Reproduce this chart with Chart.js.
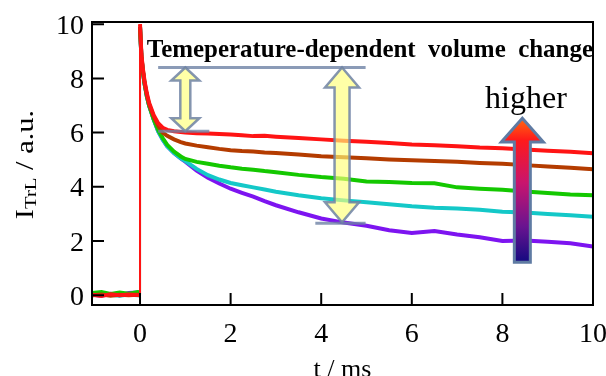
<!DOCTYPE html>
<html>
<head>
<meta charset="utf-8">
<script src="https://cdn.jsdelivr.net/npm/chart.js@4.4.0/dist/chart.umd.min.js"></script>
<style>
  html, body { margin: 0; padding: 0; background: #fff; }
  #wrap { width: 606px; height: 376px; }
</style>
</head>
<body>
<div id="wrap"><canvas id="trlChart" width="606" height="376"></canvas></div>
<script>
// time axis (ms), shared by all traces; 0 appears twice for the jump at t = 0
const times = [-1.05, -0.85, -0.65, -0.45, -0.25, -0.05, 0, 0,
  0.03, 0.06, 0.1, 0.15, 0.2, 0.3, 0.4,
  0.5, 0.6, 0.75, 0.9, 1.0,
  1.25, 1.5, 1.75, 2.0, 2.25, 2.5, 2.75, 3.0,
  3.5, 4.0, 4.5, 5.0, 5.5, 6.0, 6.5, 7.0, 7.5, 8.0, 8.5, 9.0, 9.5, 10.0];

// TrL intensity (a.u.)
const redVals = [0.02, -0.03, 0.04, 0.0, 0.03, 0.01, 0.0, 10.0,
  8.9, 8.4, 7.9, 7.45, 7.1, 6.65, 6.35,
  6.18, 6.1, 6.05, 6.02, 6.0,
  5.98, 5.97, 5.95, 5.93, 5.9, 5.87, 5.88, 5.85,
  5.8, 5.75, 5.7, 5.66, 5.62, 5.56, 5.53, 5.5, 5.45, 5.42, 5.38, 5.33, 5.29, 5.24];
const brownVals = [0.0, 0.03, -0.02, 0.02, 0.0, 0.02, 0.0, 9.9,
  8.85, 8.35, 7.85, 7.4, 7.05, 6.6, 6.25,
  6.0, 5.88, 5.75, 5.65, 5.6,
  5.52, 5.46, 5.4, 5.35, 5.32, 5.3, 5.27, 5.25,
  5.19, 5.13, 5.09, 5.05, 5.01, 4.98, 4.95, 4.92, 4.88, 4.85, 4.8, 4.75, 4.7, 4.65];
const greenVals = [0.08, 0.12, 0.05, 0.1, 0.06, 0.12, 0.1, 9.9,
  8.8, 8.3, 7.8, 7.35, 7.0, 6.5, 6.1,
  5.8, 5.55, 5.3, 5.12, 5.03,
  4.92, 4.85, 4.78, 4.72, 4.67, 4.63, 4.58, 4.54,
  4.44, 4.36, 4.3, 4.2, 4.18, 4.14, 4.13, 3.98, 3.93, 3.89, 3.83, 3.77, 3.72, 3.69];
const cyanVals = [0.0, 0.04, 0.02, -0.02, 0.03, 0.0, 0.0, 9.9,
  8.8, 8.3, 7.8, 7.35, 7.0, 6.5, 6.05,
  5.75, 5.5, 5.25, 5.05, 4.95,
  4.66, 4.43, 4.27, 4.14, 4.06, 3.98, 3.9, 3.82,
  3.69, 3.58, 3.5, 3.43, 3.36, 3.28, 3.23, 3.2, 3.15, 3.08, 3.05, 3.0, 2.95, 2.9];
const purpleVals = [0.02, -0.02, 0.05, 0.0, 0.08, 0.1, 0.05, 9.9,
  8.8, 8.3, 7.8, 7.35, 7.0, 6.5, 6.05,
  5.75, 5.5, 5.25, 5.05, 4.93,
  4.6, 4.33, 4.12, 3.93, 3.78, 3.64, 3.47, 3.32,
  3.06, 2.83, 2.68, 2.56, 2.4, 2.3, 2.37, 2.24, 2.14, 2.0, 2.02, 1.97, 1.92, 1.8];

const xTicks = [0, 2, 4, 6, 8, 10];
const yTicks = [0, 2, 4, 6, 8, 10];

const serif = '"Liberation Serif", "Times New Roman", serif';

// red on top -> first dataset
const traces = [
  { vals: redVals, color: '#ff1414' },
  { vals: brownVals, color: '#b43c00' },
  { vals: greenVals, color: '#14c800' },
  { vals: cyanVals, color: '#14c8c8' },
  { vals: purpleVals, color: '#7d14f0' }
];

function doubleArrow(ctx, cx, yTop, yBot, shaftW, headW, headL) {
  ctx.beginPath();
  ctx.moveTo(cx, yTop);
  ctx.lineTo(cx + headW / 2, yTop + headL);
  ctx.lineTo(cx + shaftW / 2, yTop + headL);
  ctx.lineTo(cx + shaftW / 2, yBot - headL);
  ctx.lineTo(cx + headW / 2, yBot - headL);
  ctx.lineTo(cx, yBot);
  ctx.lineTo(cx - headW / 2, yBot - headL);
  ctx.lineTo(cx - shaftW / 2, yBot - headL);
  ctx.lineTo(cx - shaftW / 2, yTop + headL);
  ctx.lineTo(cx - headW / 2, yTop + headL);
  ctx.closePath();
  ctx.fillStyle = 'rgba(255, 255, 120, 0.65)';
  ctx.fill();
  ctx.lineWidth = 2.5;
  ctx.strokeStyle = 'rgba(110, 130, 165, 0.85)';
  ctx.stroke();
}

function hLine(ctx, x1, x2, y) {
  ctx.beginPath();
  ctx.moveTo(x1, y);
  ctx.lineTo(x2, y);
  ctx.lineWidth = 3;
  ctx.strokeStyle = 'rgba(110, 130, 165, 0.8)';
  ctx.stroke();
}

const annotations = {
  id: 'annotations',
  afterDatasetsDraw(chart) {
    const ctx = chart.ctx;
    const xs = chart.scales.x, ys = chart.scales.y;
    const X = v => xs.getPixelForValue(v);
    const Y = v => ys.getPixelForValue(v);
    ctx.save();

    // title across the plot
    ctx.fillStyle = '#000';
    ctx.font = 'bold 25.5px ' + serif;
    ctx.textBaseline = 'alphabetic';
    const title = 'Temeperature-dependent  volume  change';
    const tw = ctx.measureText(title).width;
    const left = X(0.15), right = X(10.0);
    ctx.save();
    ctx.translate(left, Y(8.78));
    ctx.scale((right - left) / tw, 1);
    ctx.fillText(title, 0, 0);
    ctx.restore();

    // volume-change markers
    hLine(ctx, X(0.4), X(4.98), Y(8.4));
    hLine(ctx, X(0.4), X(1.53), Y(6.05));
    hLine(ctx, X(3.87), X(4.98), Y(2.66));
    doubleArrow(ctx, X(1.0), Y(8.4), Y(6.05), 10, 28, 13);
    doubleArrow(ctx, X(4.46), Y(8.4), Y(2.69), 15, 34, 20);

    // "higher" gradient arrow
    const cx = X(8.44), tip = Y(6.53), base = Y(5.65), bot = Y(1.22);
    const grad = ctx.createLinearGradient(0, tip, 0, bot);
    grad.addColorStop(0, '#ff6a10');
    grad.addColorStop(0.15, '#ff1a1a');
    grad.addColorStop(0.45, '#c8146e');
    grad.addColorStop(0.75, '#6a1490');
    grad.addColorStop(1, '#140a80');
    ctx.beginPath();
    ctx.moveTo(cx, tip);
    ctx.lineTo(cx + 21, base);
    ctx.lineTo(cx + 8, base);
    ctx.lineTo(cx + 8, bot);
    ctx.lineTo(cx - 8, bot);
    ctx.lineTo(cx - 8, base);
    ctx.lineTo(cx - 21, base);
    ctx.closePath();
    ctx.fillStyle = grad;
    ctx.fill();
    ctx.lineWidth = 3;
    ctx.lineJoin = 'miter';
    ctx.strokeStyle = '#5f7ba3';
    ctx.stroke();

    ctx.fillStyle = '#000';
    ctx.font = '32px ' + serif;
    ctx.textAlign = 'center';
    ctx.fillText('higher', X(8.52), Y(6.9));
    ctx.restore();
  },
  afterDraw(chart) {
    const ctx = chart.ctx;
    const xs = chart.scales.x, ys = chart.scales.y;
    const a = chart.chartArea;
    ctx.save();
    // frame
    ctx.strokeStyle = '#000';
    ctx.lineWidth = 2;
    ctx.strokeRect(a.left, a.top, a.right - a.left, a.bottom - a.top);
    // inward ticks and their labels
    ctx.beginPath();
    xs.ticks.forEach(t => {
      const p = xs.getPixelForValue(t.value);
      ctx.moveTo(p, a.bottom);
      ctx.lineTo(p, a.bottom - 12);
    });
    ys.ticks.forEach(t => {
      const p = ys.getPixelForValue(t.value);
      ctx.moveTo(a.left, p);
      ctx.lineTo(a.left + 12, p);
    });
    ctx.stroke();

    ctx.fillStyle = '#000';
    ctx.textBaseline = 'alphabetic';
    ctx.font = '28px ' + serif;
    ctx.textAlign = 'center';
    xs.ticks.forEach(t => {
      ctx.fillText(String(t.value), xs.getPixelForValue(t.value), a.bottom + 37);
    });
    ctx.textAlign = 'right';
    ys.ticks.forEach(t => {
      ctx.fillText(String(t.value), a.left - 8, ys.getPixelForValue(t.value) + 9.5);
    });

    // axis titles
    ctx.textAlign = 'center';
    ctx.font = '26px ' + serif;
    ctx.fillText('t / ms', (a.left + a.right) / 2, chart.height + 1);

    // y title with subscript, rotated
    const mainFont = '25px ' + serif, subFont = '17px ' + serif;
    ctx.font = mainFont;
    const wI = ctx.measureText('I').width;
    const wRest = ctx.measureText(' / a.u.').width;
    ctx.font = subFont;
    const wSub = ctx.measureText('TrL').width;
    const total = wI + wSub + wRest;
    ctx.translate(33, (a.top + a.bottom) / 2 + 1);
    ctx.rotate(-Math.PI / 2);
    ctx.scale(1.22, 1);
    ctx.textAlign = 'left';
    let x0 = -total / 2;
    ctx.font = mainFont;
    ctx.fillText('I', x0, 0);
    ctx.font = subFont;
    ctx.fillText('TrL', x0 + wI, 3);
    ctx.font = mainFont;
    ctx.fillText(' / a.u.', x0 + wI + wSub, 0);
    ctx.restore();
  }
};

const ctx = document.getElementById('trlChart').getContext('2d');
const chart = new Chart(ctx, {
  type: 'line',
  data: {
    datasets: traces.map(tr => ({
      data: times.map((t, i) => ({ x: t, y: tr.vals[i] })),
      borderColor: tr.color,
      borderWidth: 4,
      // the jump at t = 0 is a thin vertical stroke
      segment: { borderWidth: c => (c.p0.parsed.x === c.p1.parsed.x ? 2 : 4) },
      pointRadius: 0,
      tension: 0,
      fill: false
    }))
  },
  options: {
    responsive: false,
    animation: false,
    devicePixelRatio: 1,
    layout: { padding: { top: 22, right: 13, left: 0, bottom: 0 } },
    plugins: { legend: { display: false }, tooltip: { enabled: false } },
    scales: {
      x: {
        type: 'linear',
        min: -1.06,
        max: 10,
        afterBuildTicks: s => { s.ticks = xTicks.map(v => ({ value: v })); },
        afterFit: s => { s.height = 71; s.paddingLeft = 0; s.paddingRight = 0; },
        grid: { drawOnChartArea: false, drawTicks: false },
        border: { display: true, color: '#000', width: 2 },
        ticks: { display: false }
      },
      y: {
        type: 'linear',
        min: -0.36,
        max: 10.08,
        afterBuildTicks: s => { s.ticks = yTicks.map(v => ({ value: v })); },
        afterFit: s => { s.width = 92; s.paddingTop = 0; s.paddingBottom = 0; },
        grid: { drawOnChartArea: false, drawTicks: false },
        border: { display: true, color: '#000', width: 2 },
        ticks: { display: false }
      }
    }
  },
  plugins: [annotations]
});
</script>
</body>
</html>
